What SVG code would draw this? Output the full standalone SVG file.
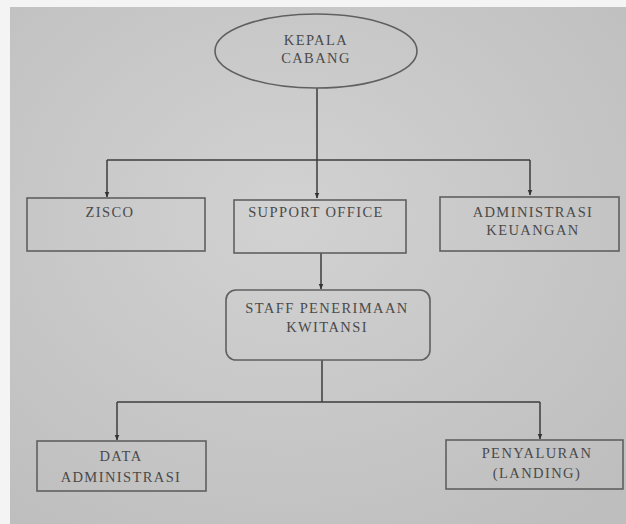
<svg xmlns="http://www.w3.org/2000/svg" width="626" height="524" viewBox="0 0 626 524">
<defs>
<radialGradient id="bg" cx="0.45" cy="0.4" r="0.75">
<stop offset="0" stop-color="#d2d2d2"/>
<stop offset="1" stop-color="#bebebe"/>
</radialGradient>
<marker id="arr" viewBox="0 0 10 10" refX="9" refY="5" markerWidth="6" markerHeight="6" orient="auto" markerUnits="userSpaceOnUse">
<path d="M0,1 L10,5 L0,9 z" fill="#333"/>
</marker>
</defs>
<style>
.box{fill:none;stroke:#606060;stroke-width:1.6}
.ln{fill:none;stroke:#3c3c3c;stroke-width:1.5}
text{font-family:"Liberation Serif","Times New Roman",serif;font-size:14.5px;letter-spacing:1.4px;fill:#4a4a4a;text-anchor:middle}
</style>
<rect x="0" y="0" width="626" height="524" fill="#f4f4f4"/>
<rect x="10" y="7" width="616" height="517" fill="url(#bg)"/>
<g id="connectors">
<path class="ln" d="M317,88 V160"/>
<path class="ln" d="M107,160 H530"/>
<path class="ln" d="M107,160 V197" marker-end="url(#arr)"/>
<path class="ln" d="M317,160 V198" marker-end="url(#arr)"/>
<path class="ln" d="M530,160 V195" marker-end="url(#arr)"/>
<path class="ln" d="M321,253 V289" marker-end="url(#arr)"/>
<path class="ln" d="M322,360 V402"/>
<path class="ln" d="M117,402 H540"/>
<path class="ln" d="M117,402 V440" marker-end="url(#arr)"/>
<path class="ln" d="M540,402 V439" marker-end="url(#arr)"/>
</g>
<g id="kepala">
<ellipse class="box" cx="316" cy="51" rx="101" ry="37"/>
<text x="316" y="45">KEPALA</text>
<text x="316" y="63">CABANG</text>
</g>
<g id="zisco">
<rect class="box" x="27" y="198" width="178" height="53"/>
<text x="110" y="217">ZISCO</text>
</g>
<g id="support">
<rect class="box" x="234" y="200" width="172" height="53"/>
<text x="316" y="217">SUPPORT OFFICE</text>
</g>
<g id="adminkeu">
<rect class="box" x="440" y="197" width="179" height="54"/>
<text x="533" y="217">ADMINISTRASI</text>
<text x="533" y="235">KEUANGAN</text>
</g>
<g id="staff">
<rect class="box" x="226" y="290" width="204" height="70" rx="10"/>
<text x="327" y="313">STAFF PENERIMAAN</text>
<text x="327" y="332">KWITANSI</text>
</g>
<g id="data">
<rect class="box" x="37" y="441" width="169" height="50"/>
<text x="121" y="461">DATA</text>
<text x="121" y="482">ADMINISTRASI</text>
</g>
<g id="penyaluran">
<rect class="box" x="446" y="440" width="177" height="49"/>
<text x="537" y="458">PENYALURAN</text>
<text x="537" y="478">(LANDING)</text>
</g>
</svg>
